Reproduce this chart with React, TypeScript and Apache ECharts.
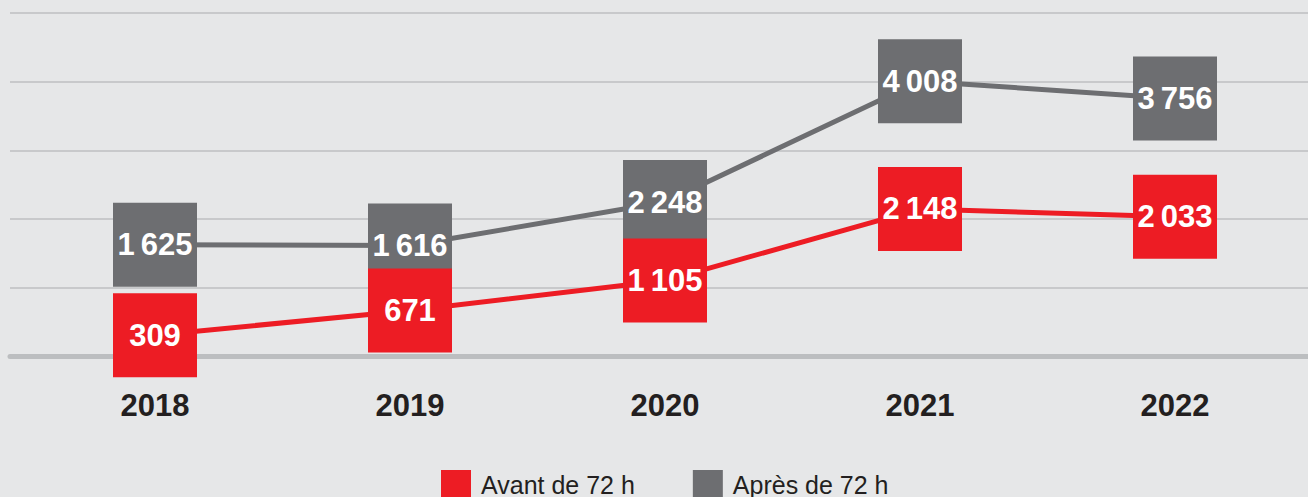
import React, { useEffect, useRef } from "react";
import * as echarts from "echarts";

const years = ["2018", "2019", "2020", "2021", "2022"];
const avant = [309, 671, 1105, 2148, 2033];
const apres = [1625, 1616, 2248, 4008, 3756];
const seriesNames = ["Avant de 72 h", "Après de 72 h"];
const yTicks = [0, 1000, 2000, 3000, 4000, 5000];

const RED = "#ed1c24";
const GRAY = "#6d6e71";
const BG = "#e6e7e8";

const fmt = (v: number) => String(v).replace(/\B(?=(\d{3})+(?!\d))/g, "\u2009");

export default function App() {
  const ref = useRef<HTMLDivElement>(null);
  useEffect(() => {
    if (!ref.current) return;
    const chart = echarts.init(ref.current, null, { renderer: "svg" });
    const labelStyle = {
      show: true,
      position: "inside" as const,
      color: "#ffffff",
      fontWeight: "bold" as const,
      fontSize: 31,
      fontFamily: "'Liberation Sans Narrow', 'Liberation Sans', Arial, sans-serif",
      formatter: (p: any) => fmt(p.value),
    };
    chart.setOption({
      animation: false,
      backgroundColor: BG,
      grid: [
        { left: 10, right: 0, top: 13, bottom: 140.5 },
        { left: 27.5, right: 5.5, top: 13, bottom: 140.5 },
      ],
      xAxis: [
        {
          gridIndex: 0,
          type: "category",
          data: years,
          axisLine: { show: true, lineStyle: { color: "#bcbec0", width: 5 } },
          axisTick: { show: false },
          axisLabel: { show: false },
          splitLine: { show: false },
        },
        {
          gridIndex: 1,
          type: "category",
          data: years,
          axisLine: { show: false },
          axisTick: { show: false },
          axisLabel: {
            show: true,
            margin: 33,
            color: "#231f20",
            fontWeight: "bold",
            fontSize: 31,
            fontFamily: "'Liberation Sans', Arial, sans-serif",
          },
          splitLine: { show: false },
        },
      ],
      yAxis: [
        {
          gridIndex: 0,
          type: "value",
          min: yTicks[0],
          max: yTicks[yTicks.length - 1],
          interval: 1000,
          axisLine: { show: false },
          axisTick: { show: false },
          axisLabel: { show: false },
          splitLine: { show: true, lineStyle: { color: "#c8c9cb", width: 2 } },
        },
        {
          gridIndex: 1,
          type: "value",
          min: yTicks[0],
          max: yTicks[yTicks.length - 1],
          interval: 1000,
          axisLine: { show: false },
          axisTick: { show: false },
          axisLabel: { show: false },
          splitLine: { show: false },
        },
      ],
      legend: {
        data: seriesNames,
        left: 441,
        top: 470,
        padding: 0,
        icon: "rect",
        itemWidth: 30,
        itemHeight: 30,
        itemGap: 58,
        textStyle: {
          fontSize: 25,
          color: "#231f20",
          fontFamily: "'Liberation Sans', Arial, sans-serif",
          padding: [0, 0, 0, 5],
        },
      },
      series: [
        {
          name: seriesNames[1],
          type: "line",
          xAxisIndex: 1,
          yAxisIndex: 1,
          data: apres,
          symbol: "rect",
          symbolSize: 84,
          lineStyle: { color: GRAY, width: 5 },
          itemStyle: { color: GRAY },
          label: labelStyle,
          z: 3,
        },
        {
          name: seriesNames[0],
          type: "line",
          xAxisIndex: 1,
          yAxisIndex: 1,
          data: avant,
          symbol: "rect",
          symbolSize: 84,
          lineStyle: { color: RED, width: 5 },
          itemStyle: { color: RED },
          label: labelStyle,
          z: 4,
        },
      ],
    });
    return () => chart.dispose();
  }, []);
  return (
    <div
      ref={ref}
      style={{ position: "absolute", left: 0, top: 0, width: 1308, height: 497 }}
    />
  );
}
